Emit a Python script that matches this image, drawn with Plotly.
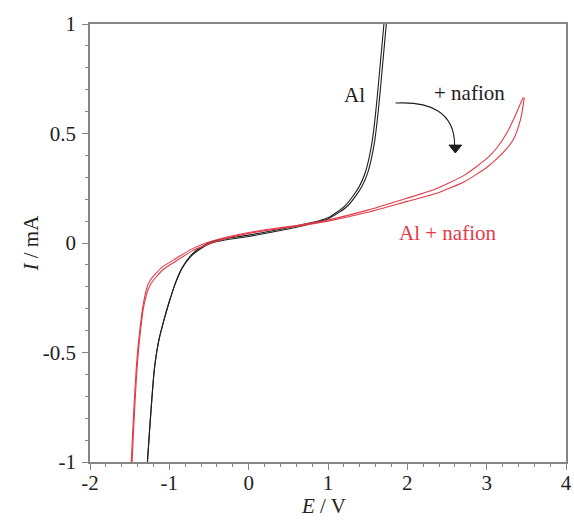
import plotly.graph_objects as go

# Cyclic voltammograms: bare Al and Al + nafion (two sweep branches each)
al_a_E = [-1.276, -1.25, -1.22, -1.19, -1.16, -1.13, -1.068, -1.006, -0.923, -0.84, -0.737, -0.63, -0.47, -0.30, 0.00, 0.30, 0.60, 0.90, 1.00, 1.14, 1.25, 1.35, 1.43, 1.50, 1.55, 1.59, 1.63, 1.67, 1.70, 1.735]
al_a_I = [-1.00, -0.86, -0.71, -0.58, -0.50, -0.44, -0.352, -0.274, -0.183, -0.116, -0.064, -0.032, 0.000, 0.014, 0.030, 0.050, 0.072, 0.098, 0.110, 0.140, 0.170, 0.215, 0.260, 0.320, 0.390, 0.470, 0.590, 0.740, 0.860, 1.00]
al_b_E = [-1.276, -1.25, -1.22, -1.19, -1.16, -1.13, -1.068, -1.006, -0.923, -0.84, -0.737, -0.63, -0.47, -0.30, 0.00, 0.30, 0.60, 0.90, 1.00, 1.12, 1.22, 1.32, 1.40, 1.47, 1.52, 1.56, 1.60, 1.64, 1.67, 1.705]
al_b_I = [-1.00, -0.86, -0.71, -0.58, -0.50, -0.44, -0.352, -0.274, -0.183, -0.114, -0.060, -0.026, 0.006, 0.020, 0.036, 0.056, 0.078, 0.103, 0.115, 0.143, 0.172, 0.217, 0.262, 0.322, 0.392, 0.472, 0.592, 0.742, 0.862, 1.00]

nf_a_E = [-1.48, -1.46, -1.44, -1.42, -1.40, -1.379, -1.338, -1.30, -1.276, -1.24, -1.193, -1.09, -0.923, -0.72, -0.51, -0.30, 0.00, 0.30, 0.60, 1.00, 1.50, 2.00, 2.35, 2.72, 3.00, 3.13, 3.25, 3.34, 3.40, 3.46]
nf_a_I = [-1.00, -0.85, -0.71, -0.59, -0.495, -0.42, -0.30, -0.228, -0.196, -0.170, -0.148, -0.110, -0.072, -0.028, 0.003, 0.025, 0.048, 0.065, 0.080, 0.105, 0.150, 0.205, 0.245, 0.310, 0.385, 0.435, 0.500, 0.565, 0.615, 0.665]
nf_b_E = [-1.47, -1.45, -1.43, -1.41, -1.39, -1.369, -1.328, -1.29, -1.266, -1.23, -1.183, -1.08, -0.913, -0.71, -0.50, -0.30, 0.00, 0.30, 0.60, 1.00, 1.50, 2.00, 2.35, 2.72, 3.00, 3.13, 3.25, 3.34, 3.40, 3.44, 3.475]
nf_b_I = [-1.00, -0.85, -0.71, -0.59, -0.495, -0.42, -0.30, -0.238, -0.211, -0.185, -0.162, -0.122, -0.082, -0.036, -0.004, 0.020, 0.044, 0.061, 0.076, 0.100, 0.140, 0.190, 0.225, 0.280, 0.345, 0.385, 0.430, 0.475, 0.530, 0.585, 0.665]

x_ticks = [-2, -1, 0, 1, 2, 3, 4]
x_tick_text = ["-2", "-1", "0", "1", "2", "3", "4"]
y_ticks = [-1, -0.5, 0, 0.5, 1]
y_tick_text = ["-1", "-0.5", "0", "0.5", "1"]

BLACK = "#1e1e1e"
RED = "#e23a48"
FONT = "Liberation Serif"
FS = 21

fig = go.Figure()
for E, I, col in [(al_a_E, al_a_I, BLACK), (al_b_E, al_b_I, BLACK),
                  (nf_a_E, nf_a_I, RED), (nf_b_E, nf_b_I, RED)]:
    fig.add_trace(go.Scatter(x=E, y=I, mode="lines",
                             line=dict(color=col, width=1.1, shape="spline", smoothing=0.5),
                             showlegend=False, hoverinfo="skip"))

axis_common = dict(
    showgrid=False, zeroline=False, showline=True, linecolor="#858585", linewidth=1.5,
    mirror=True, ticks="outside", ticklen=6, tickwidth=1.2, tickcolor="#858585",
    tickfont=dict(family=FONT, size=FS, color="#222222"),
    minor=dict(ticks="outside", ticklen=3, tickwidth=1, tickcolor="#858585"),
    ticklabeloverflow="allow",
)

fig.update_xaxes(range=[-2, 4], tickvals=x_ticks, ticktext=x_tick_text, minor_dtick=0.2,
                 ticklabelstandoff=-5, **axis_common)
fig.update_yaxes(range=[-1, 1], tickvals=y_ticks, ticktext=y_tick_text, minor_dtick=0.1,
                 ticklabelstandoff=2, **axis_common)

# Curved arrow from the "+ nafion" label down toward the red curve
fig.add_shape(type="path", path="M 1.851,0.639 C 2.286,0.648 2.596,0.598 2.596,0.447",
              line=dict(color=BLACK, width=1.1), xref="x", yref="y")
fig.add_shape(type="path", path="M 2.525,0.447 L 2.685,0.447 L 2.605,0.411 Z",
              fillcolor=BLACK, line=dict(color=BLACK, width=1), xref="x", yref="y")

ann_font = dict(family=FONT, size=FS)
fig.add_annotation(x=1.34, y=0.676, text="Al", showarrow=False, font=dict(color=BLACK, **ann_font))
fig.add_annotation(x=2.78, y=0.685, text="+ nafion", showarrow=False, font=dict(color=BLACK, **ann_font))
fig.add_annotation(x=2.50, y=0.046, text="Al + nafion", showarrow=False, font=dict(color=RED, **ann_font))

# Axis titles
fig.add_annotation(xref="paper", yref="paper", x=0.49, y=-0.1, yanchor="middle",
                   text="<i>E</i> / V", showarrow=False, font=dict(color="#222222", **ann_font))
fig.add_annotation(xref="paper", yref="paper", x=-0.125, xanchor="center", y=0.5, textangle=-90,
                   text="<i>I</i> / mA", showarrow=False, font=dict(color="#222222", **ann_font))

fig.update_layout(
    width=574, height=520,
    margin=dict(l=90, r=2, t=24, b=58),
    paper_bgcolor="white", plot_bgcolor="white",
)

fig.write_html("out.html")
